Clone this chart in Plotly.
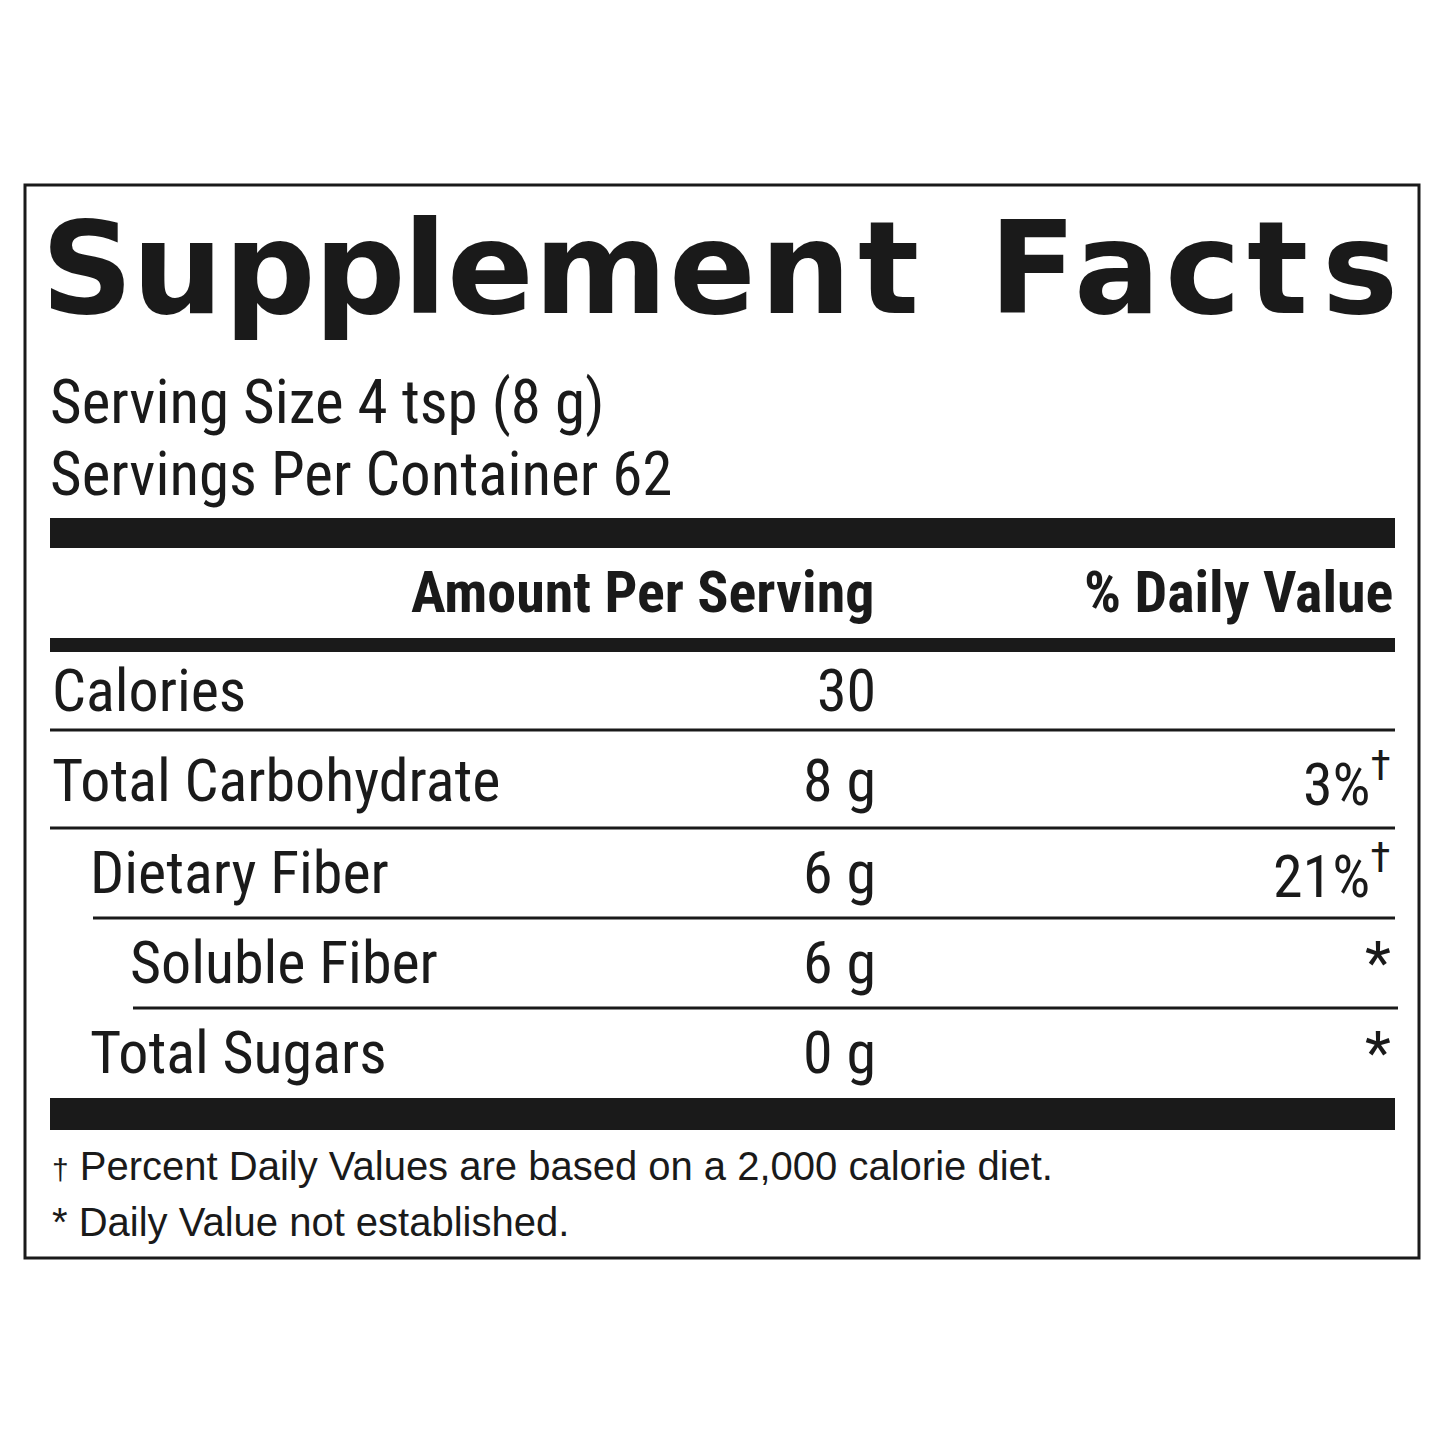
import plotly.graph_objects as go

title_letters = list("Supplement") + list("Facts")
title_centers = [87, 177, 270, 360, 425, 490, 600, 712, 805, 888,
                 1032, 1117, 1203, 1277, 1360]

serving_lines = ["Serving Size 4 tsp (8 g)", "Servings Per Container 62"]
header_amount = "Amount Per Serving"
header_dv = "% Daily Value"

nutrients = ["Calories", "Total Carbohydrate", "Dietary Fiber", "Soluble Fiber", "Total Sugars"]
amounts = ["30", "8 g", "6 g", "6 g", "0 g"]
daily_values = ["", "3%<sup>†</sup>", "21%<sup>†</sup>", "*", "*"]
indent = [52, 52, 90, 130, 90]
row_y = [690, 780, 872, 962, 1052]

footnotes = ["<span style='font-size:30px'>†</span> Percent Daily Values are based on a 2,000 calorie diet.",
             "* Daily Value not established."]

FONT = "Liberation Sans Narrow, Roboto Condensed, Liberation Sans, Arial"
INK = "#1a1a1a"

fig = go.Figure()
shapes = [dict(type="rect", x0=25, x1=1419, y0=185, y1=1258, line=dict(color=INK, width=3))]
for y0, y1, x0, x1 in [(518, 548, 50, 1395), (638, 652, 50, 1395), (1098, 1130, 50, 1395)]:
    shapes.append(dict(type="rect", x0=x0, x1=x1, y0=y0, y1=y1, fillcolor=INK, line=dict(width=0)))
for y, x0, x1 in [(730, 50, 1395), (828, 50, 1395), (918, 93, 1395), (1008, 133, 1398)]:
    shapes.append(dict(type="line", x0=x0, x1=x1, y0=y, y1=y, line=dict(color=INK, width=3)))

ann = []
for ch, cx in zip(title_letters, title_centers):
    ann.append(dict(x=cx, y=268, text=f"<b>{ch}</b>", xanchor="center", yanchor="middle",
                    font=dict(family="DejaVu Sans", size=128, color=INK)))
for i, t in enumerate(serving_lines):
    ann.append(dict(x=48, y=402 + i * 72, text=t, xanchor="left", yanchor="middle",
                    font=dict(family=FONT, size=61, color=INK)))
ann.append(dict(x=876, y=592, text=f"<b>{header_amount}</b>", xanchor="right", yanchor="middle",
                font=dict(family=FONT, size=58, color=INK)))
ann.append(dict(x=1395, y=592, text=f"<b>{header_dv}</b>", xanchor="right", yanchor="middle",
                font=dict(family=FONT, size=58, color=INK)))
for name, amt, dv, x, y in zip(nutrients, amounts, daily_values, indent, row_y):
    ann.append(dict(x=x - 2, y=y, text=name, xanchor="left", yanchor="middle",
                    font=dict(family=FONT, size=60, color=INK)))
    ann.append(dict(x=878, y=y, text=amt, xanchor="right", yanchor="middle",
                    font=dict(family=FONT, size=60, color=INK)))
    if dv:
        ann.append(dict(x=1393, y=y, text=dv, xanchor="right", yanchor="middle",
                        font=dict(family=FONT, size=60, color=INK)))
for i, t in enumerate(footnotes):
    ann.append(dict(x=50, y=1166 + i * 56, text=t, xanchor="left", yanchor="middle",
                    font=dict(family="Liberation Sans, Arial", size=40, color=INK)))
for a in ann:
    a.update(xref="x", yref="y", showarrow=False)

fig.update_layout(
    width=1445, height=1445, margin=dict(l=0, r=0, t=0, b=0),
    paper_bgcolor="white", plot_bgcolor="white", shapes=shapes, annotations=ann,
    xaxis=dict(range=[8, 1453], visible=False, fixedrange=True),
    yaxis=dict(range=[1453, 8], visible=False, fixedrange=True),
    showlegend=False,
)
fig.write_html("out.html")
